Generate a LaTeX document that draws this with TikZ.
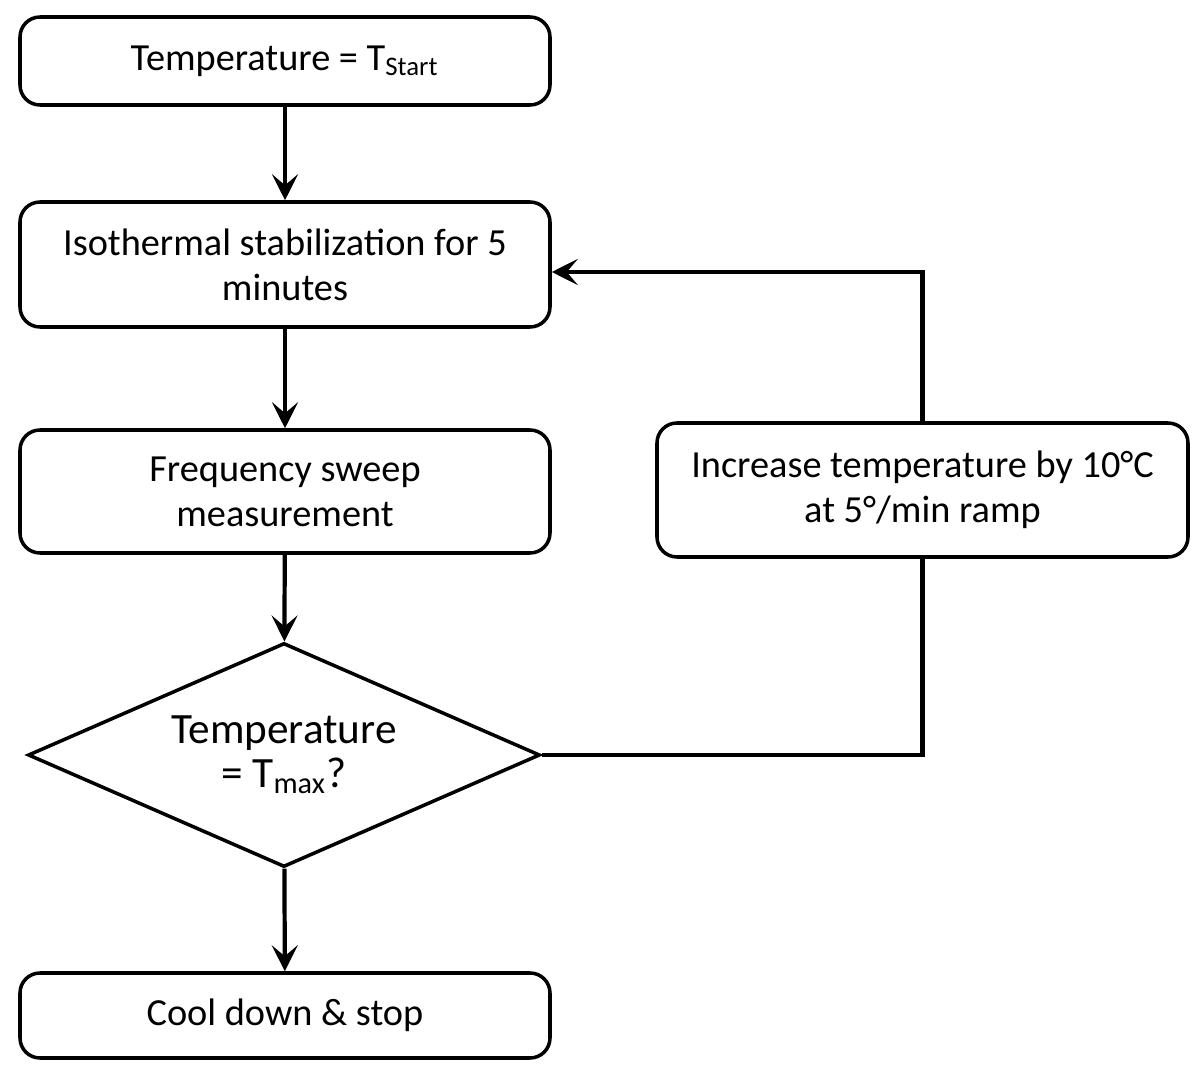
\documentclass[tikz,border=0pt]{standalone}
\usepackage{fontspec}
\setmainfont{Carlito}
\usetikzlibrary{arrows.meta,shapes.geometric}

\begin{document}
\begin{tikzpicture}[
    box/.style={draw, line width=1pt, rounded corners=2mm, minimum width=5.3cm, inner sep=0pt, align=center, font=\fontsize{10.9}{12.8}\selectfont},
    decision/.style={draw, diamond, line width=1pt, aspect=2.3, minimum width=5.12cm, minimum height=2.24cm, inner sep=0pt, align=center, font=\fontsize{12.3}{12.4}\selectfont},
    arr/.style={line width=1.2pt, -{Stealth[length=2.6mm, width=2.6mm, inset=1.1mm]}},
    link/.style={line width=1.2pt}
]
    \useasboundingbox (0,0) rectangle (12,-10.77);
    % Main steps
    \node[box, minimum height=0.88cm] (start) at (2.85,-0.61) {Temperature = T\textsubscript{Start}};
    \node[box, minimum height=1.25cm] (stab) at (2.85,-2.645) {Isothermal stabilization for 5\\minutes};
    \node[box, minimum height=1.23cm] (sweep) at (2.85,-4.915) {Frequency sweep\\measurement};
    \node[decision] (check) at (2.84,-7.55) {Temperature\\= T\textsubscript{max}?};
    \node[box, minimum height=0.85cm] (stop) at (2.85,-10.155) {Cool down \& stop};
    % Loop step
    \node[box, minimum width=5.31cm, minimum height=1.34cm] (ramp) at (9.225,-4.90) {Increase temperature by 10°C\\at 5°/min ramp};
    % Flow
    \draw[arr] (start) -- (stab);
    \draw[arr] (stab) -- (sweep);
    \draw[arr] (sweep) -- (check);
    \draw[arr] (check) -- (stop);
    % Loop back
    \draw[link] (check.east) -| (ramp.south);
    \draw[arr] (ramp.north) |- ([yshift=-0.75mm]stab.east);
\end{tikzpicture}
\end{document}
